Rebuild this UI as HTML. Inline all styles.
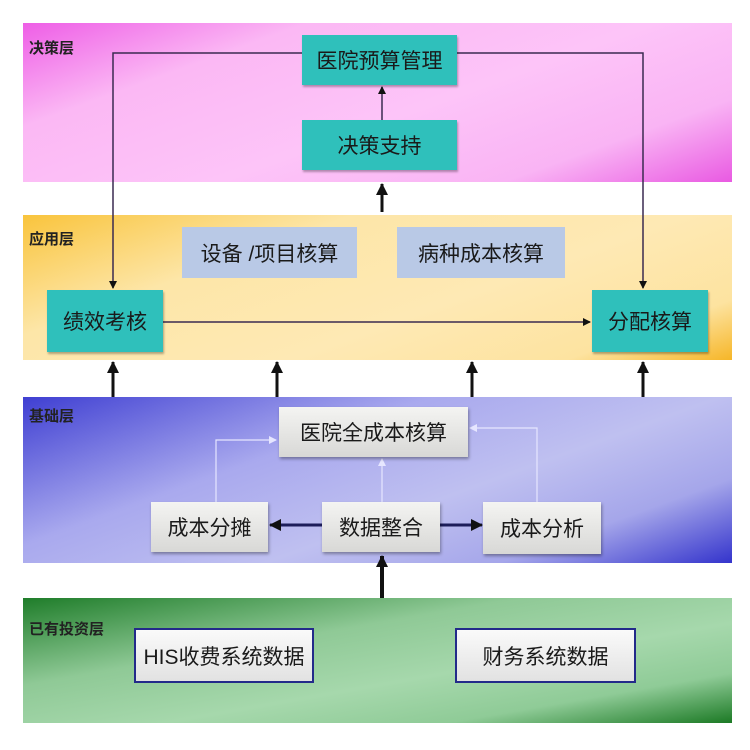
<!DOCTYPE html>
<html><head><meta charset="utf-8"><style>
body{margin:0;width:750px;height:750px;background:#fff;position:relative;overflow:hidden;font-family:"Liberation Sans","Noto Sans CJK SC",sans-serif}
.band{position:absolute;left:23px;width:709px}
.lbl{position:absolute;font-size:15px;color:#222;font-weight:bold}
.box{position:absolute;display:flex;align-items:center;justify-content:center;font-size:21px;color:#1a1a1a}
.t{background:#2fc0bb;box-shadow:1px 2px 2px rgba(0,0,0,.3)}
.b{background:#b9c9e6}
.g{background:linear-gradient(#f4f4f2,#d8d8d6);box-shadow:1px 2px 3px rgba(0,0,0,.35)}
.w{background:linear-gradient(#fafafa,#e2e2e2);border:2px solid #232a8a;box-sizing:border-box}
svg{position:absolute;left:0;top:0}
</style></head><body>
<div class="band" style="top:23px;height:159px;background:linear-gradient(160deg,#ee5ee6 0%,#fbb8f4 25%,#fdc4f8 55%,#f9b4f4 80%,#e95ae2 100%)"></div>
<div class="band" style="top:215px;height:145px;background:linear-gradient(160deg,#f9c43c 0%,#fde6a8 30%,#fee9b4 60%,#fde3a0 85%,#f6b628 100%)"></div>
<div class="band" style="top:397px;height:166px;background:linear-gradient(160deg,#3f3fd2 0%,#a9a9ee 35%,#bfc0f0 60%,#a5a6ea 80%,#3434cc 100%)"></div>
<div class="band" style="top:598px;height:125px;background:linear-gradient(170deg,#1f7d2a 0%,#8fc996 35%,#a6d8ac 60%,#8fcb97 80%,#1c7a25 100%)"></div>
<div class="lbl" style="left:29px;top:37px">决策层</div>
<div class="lbl" style="left:29px;top:228px">应用层</div>
<div class="lbl" style="left:29px;top:405px">基础层</div>
<div class="lbl" style="left:29px;top:618px">已有投资层</div>
<svg width="750" height="750">
<defs><marker id="a" markerWidth="8" markerHeight="8" refX="7" refY="4" orient="auto" markerUnits="userSpaceOnUse"><path d="M0,0 L8,4 L0,8z" fill="#111"/></marker>
<marker id="b" markerWidth="12" markerHeight="12" refX="11" refY="6" orient="auto" markerUnits="userSpaceOnUse"><path d="M0,0 L12,6 L0,12z" fill="#111"/></marker>
<marker id="c" markerWidth="8" markerHeight="8" refX="7" refY="4" orient="auto" markerUnits="userSpaceOnUse"><path d="M0,0 L8,4 L0,8z" fill="#e6e6ff"/></marker></defs>
<g stroke="#3a2a50" stroke-width="1.5" fill="none">
<polyline points="302,53 113,53 113,288" marker-end="url(#a)"/>
<polyline points="457,53 643,53 643,288" marker-end="url(#a)"/>
<line x1="382" y1="120" x2="382" y2="87" marker-end="url(#a)"/>
<line x1="163" y1="322" x2="590" y2="322" marker-end="url(#a)"/>
</g>
<g stroke="#111" stroke-width="3">
<line x1="382" y1="212" x2="382" y2="184" marker-end="url(#b)"/>
<line x1="113" y1="397" x2="113" y2="362" marker-end="url(#b)"/>
<line x1="277" y1="397" x2="277" y2="362" marker-end="url(#b)"/>
<line x1="472" y1="397" x2="472" y2="362" marker-end="url(#b)"/>
<line x1="643" y1="397" x2="643" y2="362" marker-end="url(#b)"/>
<line x1="382" y1="598" x2="382" y2="556" stroke-width="4" marker-end="url(#b)"/>
<line x1="322" y1="525" x2="270" y2="525" stroke="#1d1d5a" marker-end="url(#b)"/>
<line x1="440" y1="525" x2="482" y2="525" stroke="#1d1d5a" marker-end="url(#b)"/>
</g>
<g stroke="#e6e6ff" stroke-width="1.2" fill="none">
<polyline points="216,502 216,440 276,440" marker-end="url(#c)"/>
<polyline points="537,502 537,428 470,428" marker-end="url(#c)"/>
<line x1="382" y1="502" x2="382" y2="459" marker-end="url(#c)"/>
</g>
</svg>
<div class="box t" style="left:302px;top:35px;width:155px;height:50px">医院预算管理</div>
<div class="box t" style="left:302px;top:120px;width:155px;height:50px">决策支持</div>
<div class="box b" style="left:182px;top:227px;width:175px;height:51px">设备 /项目核算</div>
<div class="box b" style="left:397px;top:227px;width:168px;height:51px">病种成本核算</div>
<div class="box t" style="left:47px;top:290px;width:116px;height:62px">绩效考核</div>
<div class="box t" style="left:592px;top:290px;width:116px;height:62px">分配核算</div>
<div class="box g" style="left:279px;top:407px;width:189px;height:50px">医院全成本核算</div>
<div class="box g" style="left:151px;top:502px;width:117px;height:50px">成本分摊</div>
<div class="box g" style="left:322px;top:502px;width:118px;height:50px">数据整合</div>
<div class="box g" style="left:483px;top:502px;width:118px;height:52px">成本分析</div>
<div class="box w" style="left:134px;top:628px;width:180px;height:55px">HIS收费系统数据</div>
<div class="box w" style="left:455px;top:628px;width:181px;height:55px">财务系统数据</div>
</body></html>
